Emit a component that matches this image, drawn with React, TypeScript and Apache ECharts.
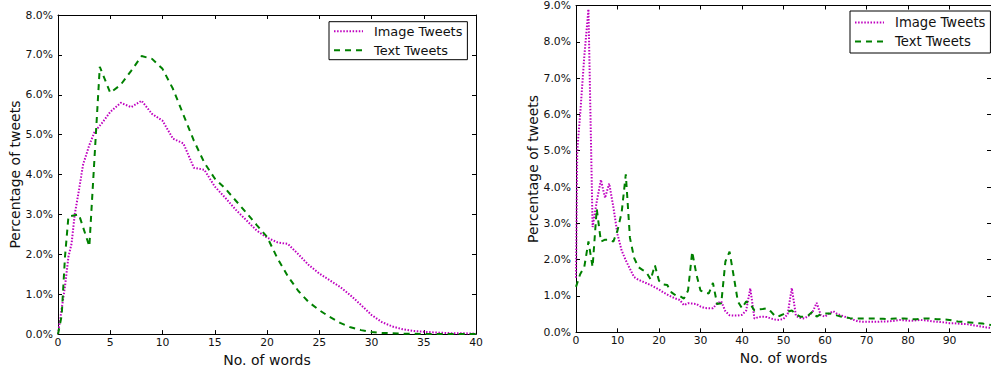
import React, { useEffect, useRef } from "react";
import * as echarts from "echarts";

// ---------- Left panel (0..40 words) ----------
const leftImageX = [0, 0.35, 0.67, 1, 1.3, 1.6, 2, 2.4, 3, 3.5, 4.3, 5, 6, 7, 8, 9, 10, 11, 12, 13, 14, 15, 16, 17, 18, 19, 20, 21, 22, 23, 24, 25, 26, 27, 28, 29, 30, 31, 32, 33, 34, 35, 36, 37, 38, 39, 40];
const leftImageY = [0, 0.63, 1.2, 1.94, 2.27, 3.0, 3.6, 4.25, 4.74, 5.07, 5.32, 5.57, 5.8, 5.69, 5.85, 5.52, 5.35, 4.9, 4.78, 4.17, 4.12, 3.7, 3.42, 3.12, 2.86, 2.6, 2.42, 2.3, 2.26, 2.0, 1.73, 1.52, 1.35, 1.18, 0.97, 0.73, 0.48, 0.3, 0.19, 0.12, 0.08, 0.06, 0.04, 0.03, 0.02, 0.02, 0.01];

const leftTextX = [0, 0.35, 0.67, 1, 2, 3, 4, 5, 6, 7, 8, 9, 10, 11, 12, 13, 14, 15, 16, 17, 18, 19, 20, 21, 22, 23, 24, 25, 26, 27, 28, 29, 30, 31, 32, 33, 34, 35, 36, 37, 38, 39, 40];
const leftTextY = [0, 0.46, 1.94, 2.95, 3.0, 2.2, 6.7, 6.05, 6.25, 6.6, 6.97, 6.9, 6.65, 6.15, 5.5, 4.85, 4.3, 3.9, 3.65, 3.35, 3.05, 2.74, 2.44, 1.9, 1.45, 1.08, 0.8, 0.6, 0.43, 0.28, 0.17, 0.1, 0.05, 0.03, 0.02, 0.01, 0.01, 0, 0, 0, 0, 0, 0];

// ---------- Right panel (0..100 words) ----------
const rightImageX = [0, 0.3, 1, 2, 3, 4, 5, 6, 7, 8, 9,
  10, 11, 12, 13, 14, 15, 16, 17, 18, 19,
  20, 21, 22, 23, 24, 25, 26, 27, 28, 29,
  30, 31, 32, 33, 34, 35, 36, 37, 38, 39,
  40, 41, 42, 43, 44, 45, 46, 47, 48, 49,
  50, 51, 52, 53, 54, 55, 56, 57, 58, 59,
  60, 61, 62, 63, 64, 65, 66, 67, 68, 69,
  70, 71, 72, 73, 74, 75, 76, 77, 78, 79,
  80, 81, 82, 83, 84, 85, 86, 87, 88, 89,
  90, 91, 92, 93, 94, 95, 96, 97, 98, 99, 100];
const rightImageY = [1.5, 5.0, 6.0, 7.6, 8.9, 2.9, 3.6, 4.2, 3.7, 4.1, 3.45,
  2.7, 2.25, 1.98, 1.75, 1.52, 1.45, 1.4, 1.35, 1.3, 1.24,
  1.18, 1.1, 1.04, 0.98, 0.93, 0.89, 0.75, 0.8, 0.79, 0.78,
  0.71, 0.67, 0.66, 0.66, 0.8, 0.85, 0.58, 0.47, 0.46, 0.46,
  0.48, 0.6, 1.21, 0.38, 0.42, 0.43, 0.42, 0.38, 0.35, 0.34,
  0.37, 0.5, 1.22, 0.45, 0.4, 0.38, 0.45, 0.56, 0.81, 0.47,
  0.43, 0.52, 0.58, 0.5, 0.46, 0.42, 0.38, 0.34, 0.3, 0.29,
  0.29, 0.29, 0.29, 0.29, 0.3, 0.3, 0.31, 0.32, 0.34, 0.33,
  0.32, 0.32, 0.33, 0.34, 0.33, 0.32, 0.3, 0.29, 0.28, 0.27,
  0.25, 0.25, 0.24, 0.23, 0.23, 0.21, 0.19, 0.17, 0.15, 0.13, 0.12];

const rightTextX = [0, 1, 2, 3, 4, 5, 6, 7, 8, 9,
  10, 11, 12, 13, 14, 15, 16, 17, 18, 19,
  20, 21, 22, 23, 24, 25, 26, 27, 28, 29,
  30, 31, 32, 33, 34, 35, 36, 37, 38, 39,
  40, 41, 42, 43, 44, 45, 46, 47, 48, 49,
  50, 51, 52, 53, 54, 55, 56, 57, 58, 59,
  60, 61, 62, 63, 64, 65, 66, 67, 68, 69,
  70, 71, 72, 73, 74, 75, 76, 77, 78, 79,
  80, 81, 82, 83, 84, 85, 86, 87, 88, 89,
  90, 91, 92, 93, 94, 95, 96, 97, 98, 99, 100];
const rightTextY = [1.25, 1.6, 1.8, 2.5, 1.8, 3.4, 2.5, 2.55, 2.55, 2.5,
  2.8, 3.3, 4.35, 2.6, 2.05, 1.8, 1.72, 1.65, 1.45, 1.85,
  1.42, 1.32, 1.3, 1.1, 1.02, 1.0, 0.93, 1.15, 2.22, 1.6,
  1.15, 1.1, 1.07, 1.36, 0.78, 0.8, 1.95, 2.22, 1.55, 0.85,
  0.66, 0.85, 0.78, 0.6, 0.63, 0.64, 0.66, 0.57, 0.44, 0.45,
  0.5, 0.57, 0.6, 0.5, 0.43, 0.43, 0.47, 0.57, 0.43, 0.5,
  0.52, 0.52, 0.5, 0.46, 0.43, 0.41, 0.39, 0.38, 0.38, 0.38,
  0.38, 0.38, 0.38, 0.37, 0.37, 0.36, 0.37, 0.38, 0.38, 0.38,
  0.37, 0.36, 0.36, 0.37, 0.38, 0.38, 0.37, 0.36, 0.36, 0.35,
  0.34, 0.32, 0.3, 0.29, 0.28, 0.27, 0.26, 0.25, 0.24, 0.22, 0.2];

const seriesNames = ["Image Tweets", "Text Tweets"];
const xAxisTitle = "No. of words";
const yAxisTitle = "Percentage of tweets";

const FONT = "DejaVu Sans";
const MAGENTA = "#bf00bf";
const GREEN = "#008000";
const INK = "#111";

function pairs(xs: number[], ys: number[]) {
  return xs.map((x, i) => [x, ys[i]]);
}

function xAxes(gridIndex: number, max: number, interval: number) {
  const common = {
    type: "value" as const,
    gridIndex,
    min: 0,
    max,
    interval,
    splitLine: { show: false },
    axisLine: { show: true, onZero: false, lineStyle: { color: "#000", width: 1 } },
    axisTick: { show: true, inside: true, length: 4, lineStyle: { color: "#000", width: 1 } },
  };
  return [
    {
      ...common,
      position: "bottom",
      axisLabel: { show: true, margin: 3, fontSize: 10.8, fontFamily: FONT, color: INK, showMaxLabel: max !== 100 },
      name: xAxisTitle,
      nameLocation: "middle",
      nameGap: gridIndex === 0 ? 14 : 16,
      nameTextStyle: { fontSize: 14, fontFamily: FONT, color: INK },
    },
    { ...common, position: "top", axisLabel: { show: false } },
  ];
}

function yAxes(gridIndex: number, max: number) {
  const common = {
    type: "value" as const,
    gridIndex,
    min: 0,
    max,
    interval: 1,
    splitLine: { show: false },
    axisLine: { show: true, onZero: false, lineStyle: { color: "#000", width: 1 } },
    axisTick: { show: true, inside: true, length: 4, lineStyle: { color: "#000", width: 1 } },
  };
  return [
    {
      ...common,
      position: "left",
      axisLabel: {
        show: true,
        margin: 5,
        fontSize: 10.8,
        fontFamily: FONT,
        color: INK,
        formatter: (v: number) => v.toFixed(1) + "%",
      },
      name: yAxisTitle,
      nameLocation: "middle",
      nameRotate: 90,
      nameGap: 36,
      nameTextStyle: { fontSize: 14, fontFamily: FONT, color: INK },
    },
    { ...common, position: "right", axisLabel: { show: false } },
  ];
}

function legend(left: number, top: number, fontSize: number, vpad: number) {
  return {
    left,
    top,
    orient: "vertical",
    data: seriesNames,
    backgroundColor: "#fff",
    borderColor: "#000",
    borderWidth: 1,
    borderRadius: 0,
    padding: [vpad, 5, vpad, 4],
    itemWidth: 29,
    itemHeight: 14,
    itemGap: 6,
    selectedMode: false,
    itemStyle: { opacity: 0 },
    textStyle: { fontSize, fontFamily: FONT, color: INK, padding: [0, 0, 0, 6] },
  };
}

export default function App() {
  const ref = useRef<HTMLDivElement>(null);
  useEffect(() => {
    if (!ref.current) return;
    const chart = echarts.init(ref.current, null, { renderer: "svg" });
    const dotted = { color: MAGENTA, width: 2, type: [1.5, 1.6], cap: "butt" };
    const dashed = { color: GREEN, width: 2, type: [6, 5], cap: "butt" };
    chart.setOption({
      animation: false,
      backgroundColor: "#fff",
      grid: [
        { left: 58, top: 15, width: 418, height: 323.7 },
        { left: 576, top: 4.3, width: 423, height: 328 },
      ],
      xAxis: [...xAxes(0, 40, 5), ...xAxes(1, 100, 10)],
      yAxis: [...yAxes(0, 8), ...yAxes(1, 9)],
      legend: [legend(329, 21.7, 12.9, 3), legend(850, 11, 13.2, 5)],
      series: [
        { type: "line", name: seriesNames[0], xAxisIndex: 0, yAxisIndex: 0, data: pairs(leftImageX, leftImageY), symbol: "none", lineStyle: dotted, itemStyle: { color: MAGENTA } },
        { type: "line", name: seriesNames[1], xAxisIndex: 0, yAxisIndex: 0, data: pairs(leftTextX, leftTextY), symbol: "none", lineStyle: dashed, itemStyle: { color: GREEN } },
        { type: "line", name: seriesNames[0], xAxisIndex: 2, yAxisIndex: 2, data: pairs(rightImageX, rightImageY), symbol: "none", lineStyle: dotted, itemStyle: { color: MAGENTA } },
        { type: "line", name: seriesNames[1], xAxisIndex: 2, yAxisIndex: 2, data: pairs(rightTextX, rightTextY), symbol: "none", lineStyle: dashed, itemStyle: { color: GREEN } },
      ],
    });
    return () => chart.dispose();
  }, []);
  return <div ref={ref} style={{ position: "absolute", left: 0, top: 0, width: 991, height: 372 }} />;
}
